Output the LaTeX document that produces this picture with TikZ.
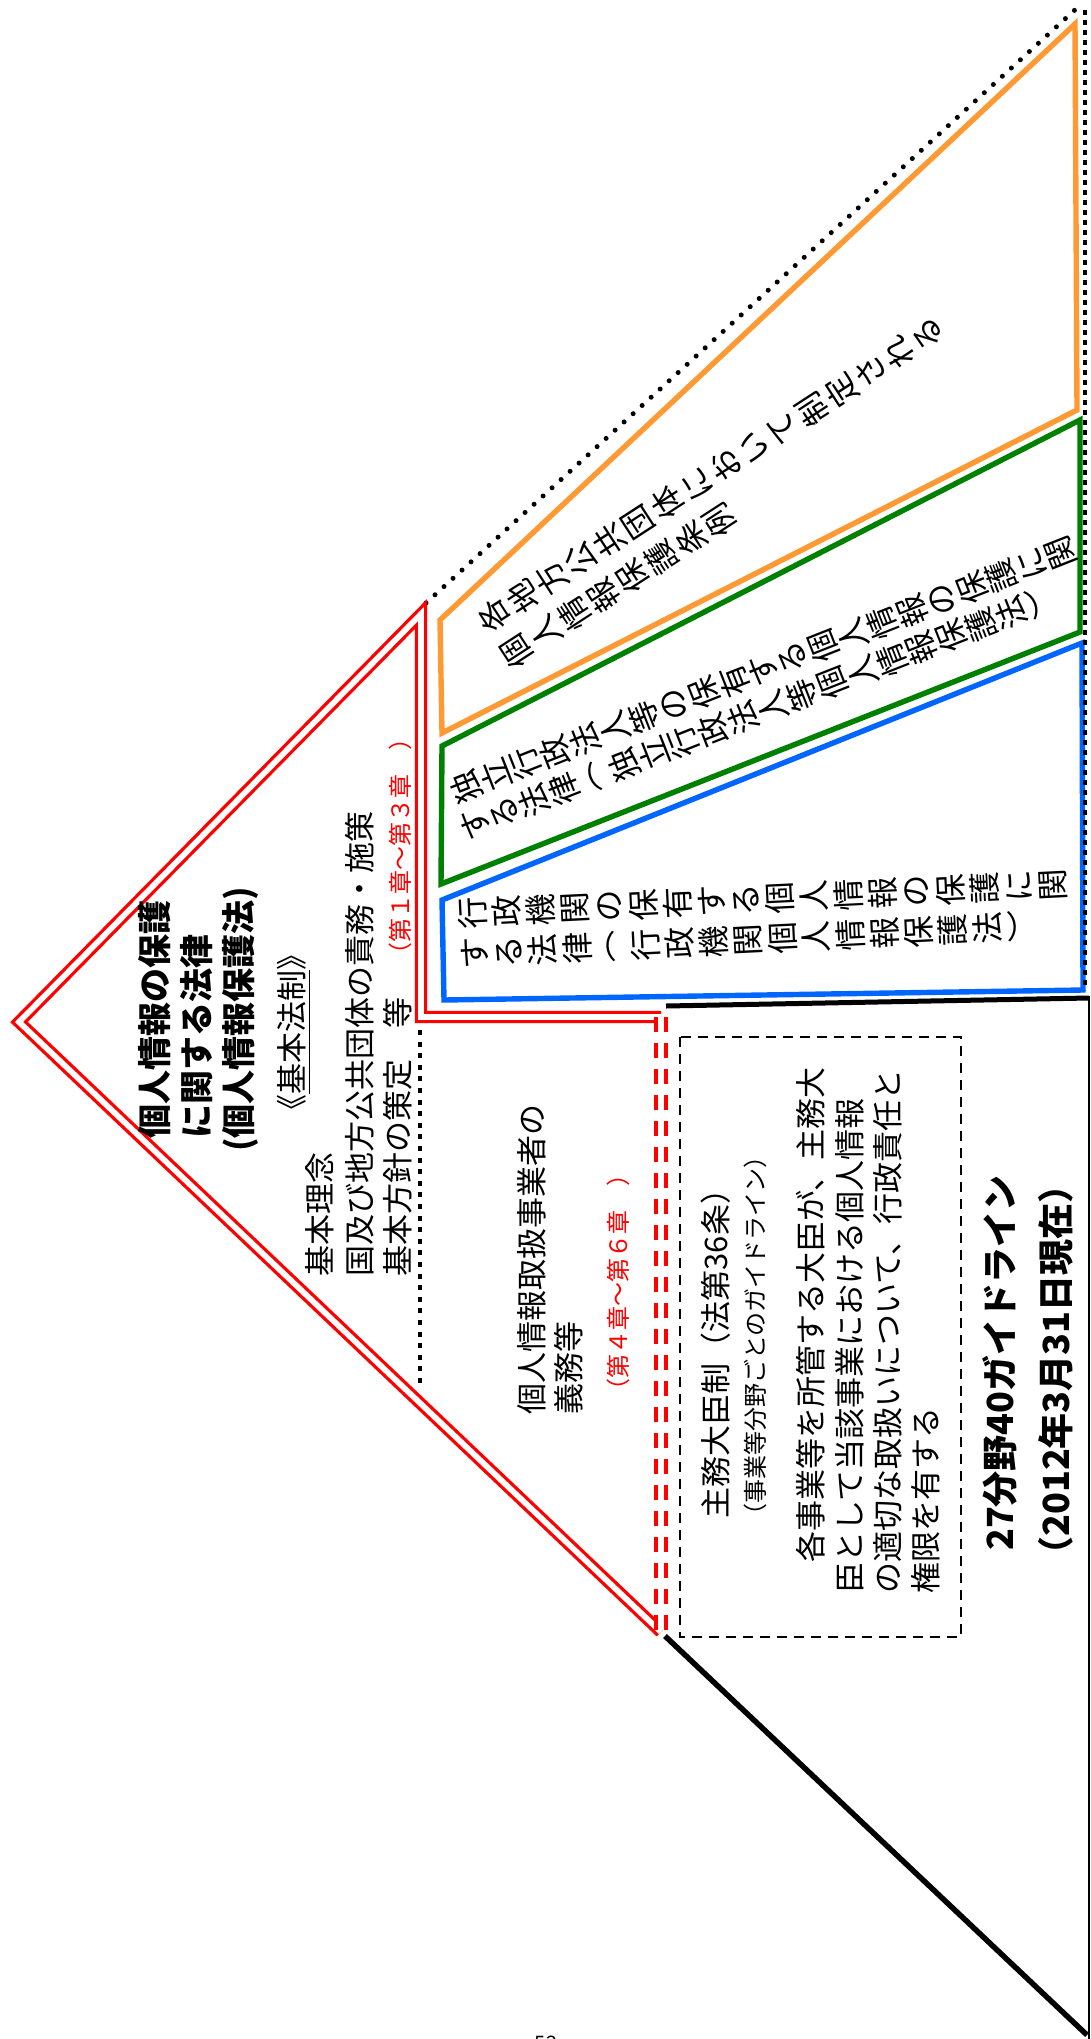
\documentclass[tikz,border=0pt]{standalone}
\usepackage{fontspec}
\setmainfont{Noto Sans CJK JP}
\definecolor{myorange}{RGB}{255,153,51}
\definecolor{mygreen}{RGB}{0,128,0}
\definecolor{myblue}{RGB}{0,102,255}
\ExplSyntaxOn
\NewDocumentCommand\tate{mm}{\vbox{\offinterlineskip\tl_map_inline:nn{#2}{\vbox_to_ht:nn{#1}{\vss\hbox_to_wd:nn{1em}{\hss##1\hss}\vss}}}}
\ExplSyntaxOff
\tikzset{
  redline/.style={draw=red, line width=1.65pt, double=white, double distance=2.85pt, line join=miter},
  reddash/.style={draw=red, line width=2pt, double=white, double distance=3pt, dash pattern=on 7.5pt off 5.5pt},
  rounddots/.style={line width=2.5pt, line cap=round, dash pattern=on 0pt off 6.1pt},
  sqdots/.style={line width=2.4pt, dash pattern=on 2.5pt off 2.5pt},
  vdots/.style={line width=2.4pt, dash pattern=on 2.5pt off 3.3pt},
  boxline/.style={line width=2.7pt, line join=miter},
  jt/.style={rotate=90, inner sep=0pt, font=\fontsize{15.5}{18}\selectfont},
  jtitle/.style={rotate=90, inner sep=0pt, font=\fontsize{17}{20}\selectfont\bfseries},
  tt/.style={inner sep=0pt, font=\fontsize{16}{16}\selectfont}
}
\begin{document}
\begin{tikzpicture}[x=0.5pt,y=-0.5pt]
\useasboundingbox (0,0) rectangle (1091,2039);
% key points
\coordinate (apex) at (19,1022);
\coordinate (rtop) at (421,614);
\coordinate (rcorner) at (421,1017);
\coordinate (rend) at (661,1017);
\coordinate (rlow) at (661,1632);
\coordinate (bstart) at (665,1636);
\coordinate (br) at (1087,2035);
\coordinate (dtop) at (426,603);
\coordinate (dtr) at (1077,8);
% coloured boxes
\draw[boxline, draw=myorange] (440,620) -- (1075,24) -- (1077,410) -- (442,733) -- cycle;
\draw[boxline, draw=mygreen] (442,746) -- (1080,420) -- (1080,632) -- (441,884) -- cycle;
\draw[boxline, draw=myblue] (442,900) -- (1082,643) -- (1083,990) -- (444,1000) -- cycle;
% black lines
\draw[rounddots] (dtop) -- (dtr);
\draw[sqdots] (1085,10) -- (1085,990);
\draw[line width=2.5pt] (666,1006) -- (1089,998);
\draw[line width=1pt] (1089,996) -- (1089,2039);
\draw[line width=2.75pt] (bstart) -- (br);
\draw[vdots] (420,1030) -- (420,1386);
\draw[line width=1pt, dash pattern=on 5pt off 3.5pt] (680,1037) rectangle (961,1637);
% red double line
\draw[redline] (rlow) -- (apex) -- (rtop) -- (rcorner) -- (rend);
\draw[reddash] (rend) -- (rlow);
% left texts
\node[jtitle, anchor=west] (t1) at (155,1139) {個人情報の保護};
\node[jtitle, anchor=west] (t2) at (197,1139) {に関する法律};
\node[jtitle] (t3) at (240,1019) {(個人情報保護法)};
\node[jt] (kihon) at (294,1032) {《\underline{基本法制}》};
\node[jt, anchor=west] (b1) at (320,1277) {基本理念};
\node[jt, anchor=west] (b2) at (360,1277) {国及び地方公共団体の責務・施策};
\node[jt, anchor=west] (b3) at (398,1277) {基本方針の策定　等　{\color{red}\fontsize{12}{14}\selectfont （第１章～第３章　）}};
\node[jt, anchor=west] (p1) at (532,1415) {個人情報取扱事業者の};
\node[jt, anchor=west] (p2) at (569,1415) {義務等};
\node[jt, text=red, font=\fontsize{12}{14}\selectfont] (p3) at (618,1282) {（第４章～第６章　）};
% dashed box texts
\node[jt] (m1) at (716,1346) {主務大臣制（法第36条）};
\node[jt, font=\fontsize{12}{14}\selectfont] (m2) at (755,1336) {（事業等分野ごとのガイドライン）};
\node[jt, anchor=west] (m3) at (811,1594) {　各事業等を所管する大臣が、主務大};
\node[jt, anchor=west] (m4) at (850,1594) {臣として当該事業における個人情報};
\node[jt, anchor=west] (m5) at (888,1594) {の適切な取扱いについて、行政責任と};
\node[jt, anchor=west] (m6) at (926,1594) {権限を有する};
\node[jtitle, font=\fontsize{18}{20}\selectfont\bfseries] (g1) at (1000,1363) {27分野40ガイドライン};
\node[jtitle, font=\fontsize{18}{20}\selectfont\bfseries] (g2) at (1056,1370) {（2012年3月31日現在）};
% slanted vertical texts
\node[tt, rotate=123] (o1) at (711,475) {\tate{17.25pt}{各地方公共団体において制定される}};
\node[tt, rotate=123] (o2) at (618,586) {\tate{17.25pt}{個人情報保護条例}};
\node[tt, rotate=111.5] (gr1) at (763.6,669.7) {\tate{16pt}{独立行政法人等の保有する個人情報の保護に関}};
\node[tt, rotate=111.5] (gr2) at (758,712.6) {\tate{16pt}{する法律︵独立行政法人等個人情報保護法︶}};
\node[tt, rotate=92.8] (bl1) at (763,899) {\tate{17.1pt}{行政機関の保有する個人情報の保護に関}};
\node[tt, rotate=92.8] (bl2) at (748,940) {\tate{17.1pt}{する法律︵行政機関個人情報保護法︶}};
% page number (cut off)
\node[inner sep=0pt, anchor=north, font=\fontsize{10}{12}\selectfont] (pg) at (546,2036) {52};
\end{tikzpicture}
\end{document}
